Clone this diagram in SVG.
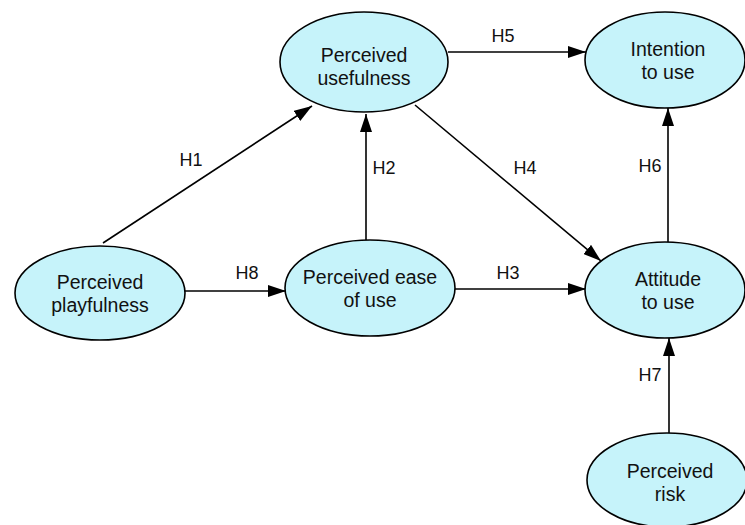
<svg xmlns="http://www.w3.org/2000/svg" width="745" height="525" viewBox="0 0 745 525">
<style>
.node ellipse{fill:#c6f3fa;stroke:#000;stroke-width:1.6}
.node text{font-family:"Liberation Sans",Arial,sans-serif;font-size:19.5px;fill:#111;text-anchor:middle}
.edge line{stroke:#000;stroke-width:1.6;marker-end:url(#ah)}
.lbl{font-family:"Liberation Sans",Arial,sans-serif;font-size:18px;fill:#111;text-anchor:middle}
</style>
<defs>
<marker id="ah" markerUnits="userSpaceOnUse" markerWidth="18" markerHeight="12" viewBox="0 0 18 12" refX="18" refY="6" orient="auto">
<path d="M0,0 L18,6 L0,12 Z" fill="#000"/>
</marker>
</defs>
<rect width="745" height="525" fill="#fff"/>
<g id="connectors" class="edge">
<line x1="103" y1="243" x2="312" y2="106"/>
<line x1="366" y1="240" x2="366" y2="114"/>
<line x1="185" y1="291" x2="286" y2="291"/>
<line x1="455" y1="289" x2="586" y2="289"/>
<line x1="415" y1="105" x2="601" y2="261"/>
<line x1="448" y1="52" x2="586" y2="52"/>
<line x1="668" y1="242" x2="668" y2="108"/>
<line x1="669" y1="433" x2="669" y2="338"/>
</g>
<g id="labels">
<text class="lbl" x="191" y="166">H1</text>
<text class="lbl" x="384" y="174">H2</text>
<text class="lbl" x="508" y="279">H3</text>
<text class="lbl" x="525" y="174">H4</text>
<text class="lbl" x="503" y="42">H5</text>
<text class="lbl" x="650" y="172">H6</text>
<text class="lbl" x="650" y="381">H7</text>
<text class="lbl" x="247" y="279">H8</text>
</g>
<g id="perceived-usefulness" class="node">
<ellipse cx="364" cy="62" rx="84" ry="50"/>
<text x="364" y="62">Perceived</text>
<text x="364" y="85">usefulness</text>
</g>
<g id="intention-to-use" class="node">
<ellipse cx="665" cy="60" rx="80" ry="48"/>
<text x="668" y="56">Intention</text>
<text x="668" y="79">to use</text>
</g>
<g id="perceived-playfulness" class="node">
<ellipse cx="100" cy="293" rx="85" ry="47"/>
<text x="100" y="289">Perceived</text>
<text x="100" y="312">playfulness</text>
</g>
<g id="perceived-ease-of-use" class="node">
<ellipse cx="370" cy="288" rx="85" ry="48"/>
<text x="370" y="284">Perceived ease</text>
<text x="370" y="307">of use</text>
</g>
<g id="attitude-to-use" class="node">
<ellipse cx="665" cy="290" rx="80" ry="48"/>
<text x="668" y="286">Attitude</text>
<text x="668" y="309">to use</text>
</g>
<g id="perceived-risk" class="node">
<ellipse cx="667" cy="480" rx="80" ry="47"/>
<text x="670" y="478">Perceived</text>
<text x="670" y="501">risk</text>
</g>
</svg>
